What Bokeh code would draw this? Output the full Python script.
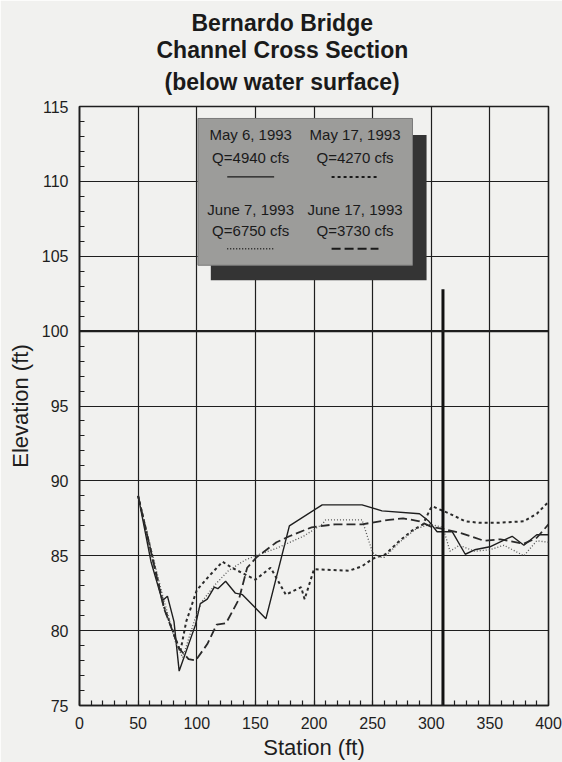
from bokeh.plotting import figure
from bokeh.models import Range1d, Label, Span, FixedTicker, Title
from bokeh.embed import file_html
from bokeh.resources import INLINE

# ---------------- data ----------------
x_ticks = [0, 50, 100, 150, 200, 250, 300, 350, 400]
y_ticks = [75, 80, 85, 90, 95, 100, 105, 110, 115]

station_may6 = [50, 61, 70.6, 75, 80.6, 85, 99, 103, 109, 115, 118, 124.6, 133, 139, 159,
                179, 207, 241, 258, 290, 298, 305, 318, 329, 337, 350, 369, 379, 390, 400]
elev_may6 = [89.0, 84.6, 82.0, 82.3, 80.6, 77.3, 80.4, 81.8, 82.1, 82.9, 82.8, 83.3, 82.5, 82.4, 80.8,
             87.0, 88.4, 88.4, 88.0, 87.8, 87.3, 86.6, 86.6, 85.1, 85.4, 85.6, 86.3, 85.7, 86.4, 86.4]

station_may17 = [50, 72, 86, 91, 100, 110, 122, 130, 150, 163, 176, 189, 192, 200, 230,
                 241, 250, 261, 273, 284, 293, 299, 301, 316, 329, 341, 357, 379, 390, 400]
elev_may17 = [89.0, 81.6, 78.6, 80.6, 82.7, 83.6, 84.6, 84.2, 83.4, 84.2, 82.4, 82.9, 82.1, 84.1, 84.0,
              84.3, 84.8, 85.1, 86.0, 86.7, 87.1, 88.1, 88.3, 87.8, 87.3, 87.2, 87.2, 87.3, 87.8, 88.6]

station_jun7 = [50, 70, 82, 88, 99, 105, 116, 127, 141, 150, 168, 191, 207, 210, 241,
                250, 256, 260, 273, 287, 299, 310, 316, 324, 337, 350, 362, 379, 390, 400]
elev_jun7 = [89.0, 82.6, 79.2, 78.2, 80.9, 82.0, 83.1, 84.0, 84.7, 85.0, 85.5, 86.3, 87.1, 87.4, 87.4,
             85.2, 84.9, 84.9, 85.9, 86.8, 87.1, 86.9, 85.3, 85.7, 85.3, 85.4, 85.7, 85.0, 86.0, 85.9]

station_jun17 = [50, 72, 85, 93, 99, 109, 117, 125, 136, 143, 151, 168, 179, 198, 218,
                 241, 264, 276, 290, 301, 310, 326, 345, 359, 379, 390, 400]
elev_jun17 = [89.0, 81.5, 78.8, 78.1, 78.0, 79.1, 80.4, 80.5, 82.1, 84.2, 84.9, 85.9, 86.3, 86.9, 87.1,
              87.1, 87.4, 87.5, 87.3, 86.9, 86.8, 86.5, 86.0, 86.1, 85.8, 86.2, 87.1]

pier_station = [310]
pier_base = [75.0]
pier_top = [102.8]

legend_dates = ["May 6, 1993", "May 17, 1993", "June 7, 1993", "June 17, 1993"]
legend_flows = ["Q=4940 cfs", "Q=4270 cfs", "Q=6750 cfs", "Q=3730 cfs"]
title_lines = ["Bernardo Bridge", "Channel Cross Section", "(below water surface)"]

# ---------------- styling ----------------
INK = "#1e1e1e"
PAPER = "#f1f1ef"
FONT = "Liberation Sans"

p = figure(width=562, height=762, output_backend="svg", toolbar_location=None, title=None,
           x_range=Range1d(0, 400), y_range=Range1d(75, 115),
           min_border_left=79, min_border_right=14, min_border_top=106, min_border_bottom=57,
           background_fill_color=PAPER, border_fill_color=PAPER)

p.outline_line_color = INK
p.outline_line_width = 1.6

for ax in (p.xaxis[0], p.yaxis[0]):
    ax.axis_line_color = INK
    ax.axis_line_width = 1.5
    ax.major_tick_in = 0
    ax.major_tick_out = 0
    ax.minor_tick_in = 5
    ax.minor_tick_out = 0
    ax.minor_tick_line_color = INK
    ax.minor_tick_line_width = 1.2
    ax.major_label_text_font = FONT
    ax.major_label_text_font_size = "16px"
    ax.major_label_text_color = INK
    ax.axis_label_text_font = FONT
    ax.axis_label_text_font_size = "22px"
    ax.axis_label_text_font_style = "normal"
    ax.axis_label_text_color = INK

p.xaxis.ticker = FixedTicker(ticks=x_ticks, minor_ticks=list(range(0, 401, 10)))
p.yaxis.ticker = FixedTicker(ticks=y_ticks, minor_ticks=list(range(75, 116, 1)))
p.xaxis.major_label_standoff = 11
p.yaxis.major_label_standoff = 11
p.xaxis.axis_label_standoff = 3
p.yaxis.axis_label_standoff = 6
p.xaxis.axis_label = "Station (ft)"
p.yaxis.axis_label = "Elevation (ft)"

p.grid.grid_line_color = INK
p.grid.grid_line_width = 1.2
p.grid.grid_line_alpha = 1.0
p.add_layout(Span(location=100, dimension="width", line_color=INK, line_width=2.4))

# ---------------- series ----------------
p.line(station_may6, elev_may6, line_color=INK, line_width=1.4)
p.line(station_may17, elev_may17, line_color="#2a2a2a", line_width=2.0, line_dash="3 3")
p.line(station_jun7, elev_jun7, line_color="#555555", line_width=1.3, line_dash="1 2")
p.line(station_jun17, elev_jun17, line_color="#2a2a2a", line_width=1.8, line_dash="9 4")

p.segment(x0=pier_station, y0=pier_base, x1=pier_station, y1=pier_top,
          line_color="#111111", line_width=3)

# ---------------- legend panel ----------------
p.quad(left=[112], right=[296], bottom=[103.4], top=[113.1], fill_color="#343434", line_color=None)
p.quad(left=[101], right=[284], bottom=[104.4], top=[114.2], fill_color="#9c9c9a",
       line_color="#7a7a7a", line_width=1)

col_x = [146.0, 235.0]
row_y = [(113.1, 111.6, 110.3), (108.1, 106.75, 105.5)]
dashes = ["solid", "3 3", "1 2", "9 4"]
widths = [1.4, 2.0, 1.3, 1.8]
for i, (d, q) in enumerate(zip(legend_dates, legend_flows)):
    cx = col_x[i % 2]
    ry = row_y[i // 2]
    p.add_layout(Label(x=cx, y=ry[0], text=d, text_align="center", text_baseline="middle",
                       text_font=FONT, text_font_size="15px", text_color="#1a1a1a"))
    p.add_layout(Label(x=cx, y=ry[1], text=q, text_align="center", text_baseline="middle",
                       text_font=FONT, text_font_size="15px", text_color="#1a1a1a"))
    p.segment(x0=[cx - 20], y0=[ry[2]], x1=[cx + 20], y1=[ry[2]],
              line_color="#1a1a1a", line_width=widths[i], line_dash=dashes[i])

# ---------------- title (stacked outward from the frame) ----------------
# (text, standoff, left offset from the frame edge)
for t, sto, off in zip(reversed(title_lines), [23, -14, 12], [85, 77, 112]):
    p.add_layout(Title(text=t, align="left", offset=off, standoff=sto,
                       text_font=FONT, text_font_size="23px", text_font_style="bold",
                       text_color="#1a1a1a"), "above")

open("out.html", "w").write(file_html(p, INLINE))
